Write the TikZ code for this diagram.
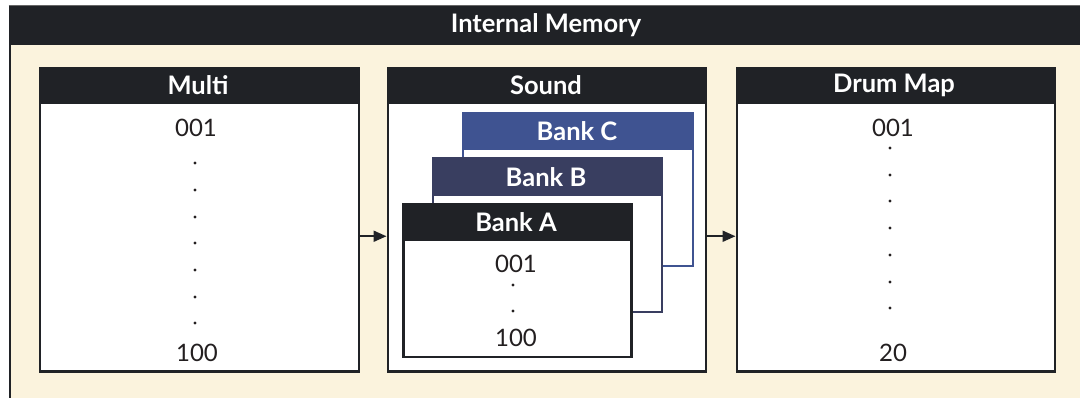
\documentclass[tikz,border=0pt]{standalone}
\usepackage{fontspec}
\setmainfont{Lato}
\usetikzlibrary{arrows.meta}
\definecolor{dark}{HTML}{202226}
\definecolor{cream}{HTML}{FBF3DD}
\definecolor{bankc}{HTML}{3F5391}
\definecolor{bankb}{HTML}{393E60}
\definecolor{txt}{HTML}{231F20}
\tikzset{
  hdrfont/.style={font=\fontsize{25.5}{27}\selectfont\bfseries, text=white, inner sep=0pt},
  numfont/.style={font=\fontsize{24}{26}\selectfont, text=txt, inner sep=0pt},
  bodybox/.style={draw=dark, line width=2.5pt, fill=white, inner sep=0pt},
  hdrbox/.style={fill=dark, inner sep=0pt},
  dotnode/.style={circle, fill=txt, inner sep=0pt, minimum size=3.2pt},
  arr/.style={draw=dark, line width=2pt, -{Triangle[length=13pt,width=11pt]}},
}
\begin{document}
\begin{tikzpicture}[x=1pt,y=-1pt]
\useasboundingbox (0,0) rectangle (1080,398);
\fill[white] (0,0) rectangle (1080,398);
\clip (0,0) rectangle (1080,398);
% outer frame
\node[fill=cream, draw=dark, line width=2.5pt, minimum width=1090, minimum height=420, anchor=north west, inner sep=0pt] (outer) at (8.5,6) {};
\node[hdrbox, minimum width=1090, minimum height=39, anchor=north west] (outerh) at (8.5,6) {};
\draw[color=gray!80!black, line width=1pt] (outer.north west) -- (outer.north east);
\node[hdrfont] (title) at (546,25) {Internal Memory};

% Multi
\node[bodybox, minimum width=319, minimum height=303, anchor=north west] (multi) at (38.5,67) {};
\node[hdrbox, minimum width=319, minimum height=37, anchor=north west] (multih) at (38.5,67) {};
\node[hdrfont] (multit) at (198,85) {Multi};
% Sound
\node[bodybox, minimum width=318, minimum height=303, anchor=north west] (sound) at (386.5,67) {};
\node[hdrbox, minimum width=318, minimum height=37, anchor=north west] (soundh) at (386.5,67) {};
\node[hdrfont] (soundt) at (546,85) {Sound};
% Drum Map
\node[bodybox, minimum width=318, minimum height=303, anchor=north west] (drum) at (735.5,67) {};
\node[hdrbox, minimum width=318, minimum height=37, anchor=north west] (drumh) at (735.5,67) {};
\node[hdrfont] (drumt) at (894,85) {Drum Map};

% Banks
\node[draw=bankc, line width=2pt, fill=white, minimum width=230, minimum height=153, anchor=north west, inner sep=0pt] (bc) at (462,112) {};
\node[fill=bankc, inner sep=0pt, minimum width=230, minimum height=38, anchor=north west] (bch) at (462,112) {};
\node[hdrfont] (bct) at (577,131) {Bank C};
\node[draw=bankb, line width=2pt, fill=white, minimum width=229, minimum height=154, anchor=north west, inner sep=0pt] (bb) at (432,157) {};
\node[fill=bankb, inner sep=0pt, minimum width=229, minimum height=39, anchor=north west] (bbh) at (432,157) {};
\node[hdrfont] (bbt) at (546,177) {Bank B};
\node[draw=dark, line width=2.5pt, fill=white, minimum width=228, minimum height=153, anchor=north west, inner sep=0pt] (ba) at (402,203) {};
\node[fill=dark, inner sep=0pt, minimum width=228, minimum height=38, anchor=north west] (bah) at (402,203) {};
\node[hdrfont] (bat) at (516,222) {Bank A};
\node[numfont] (ba1) at (516,264) {001};
\node[dotnode] (bad1) at (513,285) {};
\node[dotnode] (bad2) at (513,311) {};
\node[numfont] (ba2) at (516,338) {100};

% Multi contents
\node[numfont] (m1) at (196,128) {001};
\foreach \y [count=\i] in {163,190,217,243,270,297,323}
  \node[dotnode] (md\i) at (195,\y) {};
\node[numfont] (m2) at (197,353) {100};

% Drum contents
\node[numfont] (d1) at (893,128) {001};
\foreach \y [count=\i] in {148,175,201,228,255,282,308}
  \node[dotnode] (dd\i) at (890,\y) {};
\node[numfont] (d2) at (893,353) {20};

% arrows
\draw[arr] ([yshift=-16.5pt]multi.east) -- ([yshift=-16.5pt]sound.west);
\draw[arr] ([yshift=-16.5pt]sound.east) -- ([yshift=-16.5pt]drum.west);
\end{tikzpicture}
\end{document}
